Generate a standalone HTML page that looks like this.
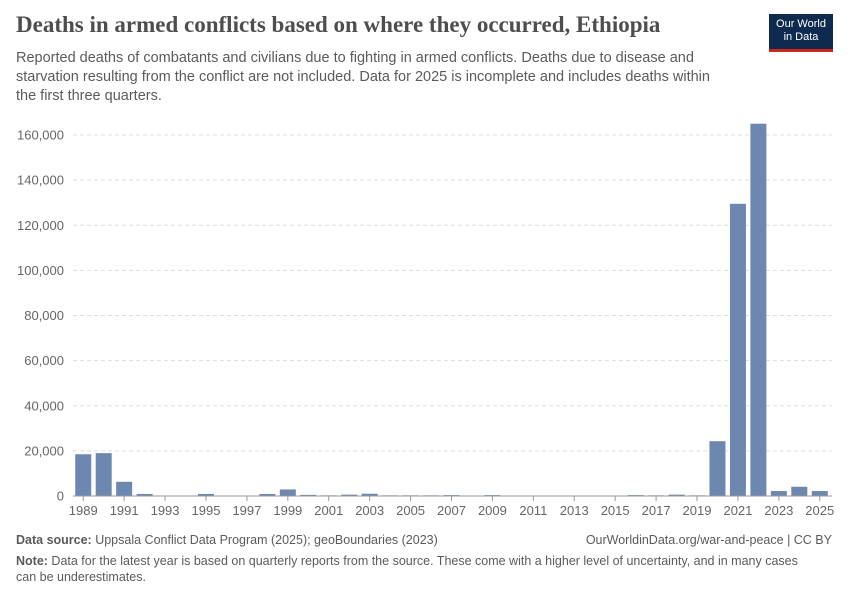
<!DOCTYPE html>
<html><head><meta charset="utf-8"><style>
body{margin:0;background:#fff;font-family:"Liberation Sans",sans-serif;}
#wrap{position:relative;width:850px;height:600px;overflow:hidden;}
.t{position:absolute;margin:0;}
</style></head><body>
<div id="wrap">
<h1 class="t" style="left:16px;top:12px;font-family:'Liberation Serif',serif;font-size:23px;font-weight:bold;color:#4e4e4e;">Deaths in armed conflicts based on where they occurred, Ethiopia</h1>
<div class="t" style="left:769px;top:14px;width:64px;height:38px;background:#0e2a4f;border-bottom:3px solid #ce261e;color:#fff;font-size:11px;line-height:13px;text-align:center;padding-top:4px;box-sizing:border-box;">Our World<br>in Data</div>
<p class="t" style="left:16px;top:49px;width:715px;font-size:14.5px;line-height:19px;color:#5b5b5b;">Reported deaths of combatants and civilians due to fighting in armed conflicts. Deaths due to disease and starvation resulting from the conflict are not included. Data for 2025 is incomplete and includes deaths within the first three quarters.</p>
<svg id="chart" width="850" height="600" style="position:absolute;left:0;top:0;"></svg>
<div class="t" style="left:16px;top:533px;font-size:12.5px;color:#5b5b5b;"><b>Data source:</b> Uppsala Conflict Data Program (2025); geoBoundaries (2023)</div>
<div class="t" style="right:18px;top:533px;font-size:12.5px;color:#5b5b5b;">OurWorldinData.org/war-and-peace | CC BY</div>
<div class="t" style="left:16px;top:553px;width:800px;font-size:12.5px;line-height:16px;color:#5b5b5b;"><b>Note:</b> Data for the latest year is based on quarterly reports from the source. These come with a higher level of uncertainty, and in many cases can be underestimates.</div>
</div>
<script>
const years=[1989,1990,1991,1992,1993,1994,1995,1996,1997,1998,1999,2000,2001,2002,2003,2004,2005,2006,2007,2008,2009,2010,2011,2012,2013,2014,2015,2016,2017,2018,2019,2020,2021,2022,2023,2024,2025];
const deaths=[18500,19000,6300,900,0,0,900,100,100,900,2900,500,300,600,1000,300,300,300,400,200,400,50,50,200,50,50,200,400,300,600,300,24300,129500,165000,2200,4100,2200];
const yTicks=[0,20000,40000,60000,80000,100000,120000,140000,160000];
const xTickYears=[1989,1991,1993,1995,1997,1999,2001,2003,2005,2007,2009,2011,2013,2015,2017,2019,2021,2023,2025];
const NS="http://www.w3.org/2000/svg";
const svg=document.getElementById('chart');
const x0=73,x1=830,y0=496,yTop=135,yMaxV=160000;
const band=(x1-x0)/years.length;
const xs=y=>x0+(y-years[0])*band+band/2;
const ys=v=>y0-(v/yMaxV)*(y0-yTop);
function mk(t,a){const e=document.createElementNS(NS,t);for(const k in a)e.setAttribute(k,a[k]);svg.appendChild(e);return e;}
yTicks.forEach(v=>{
  if(v>0){const g=mk('line',{x1:x0,x2:x1+2,y1:ys(v),y2:ys(v),stroke:'#ddd','stroke-dasharray':'4,3'});
  
  }
  const t=mk('text',{x:64,y:ys(v)+4.5,'text-anchor':'end','font-size':'13','fill':'#666','font-family':'Liberation Sans, sans-serif'});
  t.textContent=v.toLocaleString('en-US');
  
  
});
years.forEach((y,i)=>{
  const h=y0-ys(deaths[i]);
  const r=mk('rect',{x:xs(y)-8,y:ys(deaths[i]),width:16,height:Math.max(h,0),fill:'#6d87b0'});
  
  
});
const ax=mk('line',{x1:x0,x2:x1+2,y1:y0,y2:y0,stroke:'#999'});


xTickYears.forEach(y=>{
  const tk=mk('line',{x1:xs(y),x2:xs(y),y1:y0,y2:y0+5,stroke:'#999'});
  
  
  const t=mk('text',{x:xs(y),y:y0+19,'text-anchor':'middle','font-size':'13','fill':'#666','font-family':'Liberation Sans, sans-serif'});
  t.textContent=y;
  
  
});
</script>
</body></html>
